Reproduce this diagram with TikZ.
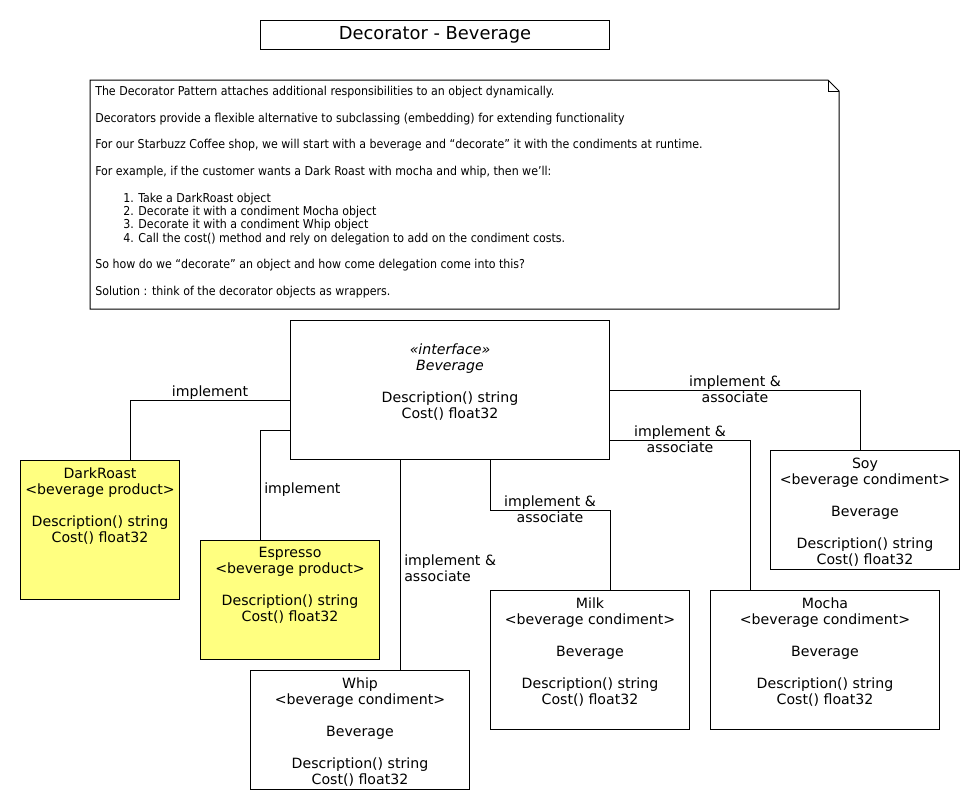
\documentclass[tikz,border=0pt]{standalone}
\usepackage{fontspec}
\setmainfont{DejaVu Sans}
\newfontfamily\notefont{DejaVu Sans Condensed}
\definecolor{prodyellow}{RGB}{255,255,128}
\begin{document}
\begin{tikzpicture}[x=0.75pt,y=-0.75pt,
  box/.style={draw,line width=0.75pt,anchor=north west,inner sep=0pt},
  txt/.style={inner sep=0pt,align=center,font=\fontsize{10.6}{12}\selectfont},
  lbl/.style={inner sep=0pt,align=center,font=\fontsize{10.6}{12}\selectfont},
  conn/.style={line width=0.75pt}]
\useasboundingbox (0,0) rectangle (980,810);
% title
\node[box,minimum width=261.75pt,minimum height=21.75pt] (title) at (260,20) {};
\node[inner sep=0pt,font=\fontsize{13.4}{15}\selectfont] (titletext) at (title.center) {Decorator - Beverage};
% note
\draw[line width=0.75pt] (90,80) -- (828,80) -- (839,91) -- (839,309) -- (90,309) -- cycle;
\draw[line width=0.75pt] (828,80) -- (828,91) -- (839,91);
\coordinate (notetl) at (95,86);
\node[anchor=north west,inner sep=0pt,align=left,font=\notefont\fontsize{9.2}{10}\selectfont] (notetext) at (notetl) {%
The Decorator Pattern attaches additional responsibilities to an object dynamically.\\[10pt]
Decorators provide a flexible alternative to subclassing (embedding) for extending functionality\\[10pt]
For our Starbuzz Coffee shop, we will start with a beverage and “decorate” it with the condiments at runtime.\\[10pt]
For example, if the customer wants a Dark Roast with mocha and whip, then we’ll:\\[10pt]
\hspace*{21pt}1. Take a DarkRoast object\\
\hspace*{21pt}2. Decorate it with a condiment Mocha object\\
\hspace*{21pt}3. Decorate it with a condiment Whip object\\
\hspace*{21pt}4. Call the cost() method and rely on delegation to add on the condiment costs.\\[10pt]
So how do we “decorate” an object and how come delegation come into this?\\[10pt]
Solution : think of the decorator objects as wrappers.};
% interface
\node[box,minimum width=239.25pt,minimum height=104.25pt] (bev) at (290,320) {};
\node[txt,anchor=north] (bevtext) at ([yshift=-17.5pt]bev.north) {\itshape «interface»\\\itshape Beverage\\[12pt]Description() string\\Cost() float32};
% DarkRoast
\node[box,fill=prodyellow,minimum width=119.25pt,minimum height=104.25pt] (dark) at (20,460) {};
\node[txt,anchor=north] (darktext) at ([yshift=-5.5pt]dark.north) {DarkRoast\\<beverage product>\\[12pt]Description() string\\Cost() float32};
% Espresso
\node[box,fill=prodyellow,minimum width=134.25pt,minimum height=89.25pt] (esp) at (200,540) {};
\node[txt,anchor=north] (esptext) at ([yshift=-5.5pt]esp.north) {Espresso\\<beverage product>\\[12pt]Description() string\\Cost() float32};
% Whip
\node[box,minimum width=164.25pt,minimum height=89.25pt] (whip) at (250,670) {};
\node[txt,anchor=north] (whiptext) at ([yshift=-5.5pt]whip.north) {Whip\\<beverage condiment>\\[12pt]Beverage\\[12pt]Description() string\\Cost() float32};
% Milk
\node[box,minimum width=149.25pt,minimum height=104.25pt] (milk) at (490,590) {};
\node[txt,anchor=north] (milktext) at ([yshift=-5.5pt]milk.north) {Milk\\<beverage condiment>\\[12pt]Beverage\\[12pt]Description() string\\Cost() float32};
% Mocha
\node[box,minimum width=171.75pt,minimum height=104.25pt] (mocha) at (710,590) {};
\node[txt,anchor=north] (mochatext) at ([yshift=-5.5pt]mocha.north) {Mocha\\<beverage condiment>\\[12pt]Beverage\\[12pt]Description() string\\Cost() float32};
% Soy
\node[box,minimum width=141.75pt,minimum height=89.25pt] (soy) at (770,450) {};
\node[txt,anchor=north] (soytext) at ([yshift=-5.5pt]soy.north) {Soy\\<beverage condiment>\\[12pt]Beverage\\[12pt]Description() string\\Cost() float32};
% connectors
\draw[conn] (bev.west |- 0,400) -- (130,400) -- (dark.north -| 130,0);
\node[lbl] (l1) at (210,393) {implement};
\draw[conn] (bev.west |- 0,430) -- (260,430) -- (esp.north -| 260,0);
\node[lbl,anchor=west] (l2) at (264,490) {implement};
\draw[conn] (bev.south -| 400,0) -- (whip.north -| 400,0);
\node[lbl,anchor=west,align=left] (l3) at (404,568) {implement \&\\associate};
\draw[conn] (bev.south -| 490,0) -- (490,510) -- (610,510) -- (milk.north -| 610,0);
\node[lbl] (l4) at (550,509) {implement \&\\associate};
\draw[conn] (bev.east |- 0,440) -- (750,440) -- (mocha.north -| 750,0);
\node[lbl] (l5) at (680,439) {implement \&\\associate};
\draw[conn] (bev.east |- 0,390) -- (860,390) -- (soy.north -| 860,0);
\node[lbl] (l6) at (735,389) {implement \&\\associate};
\end{tikzpicture}
\end{document}
